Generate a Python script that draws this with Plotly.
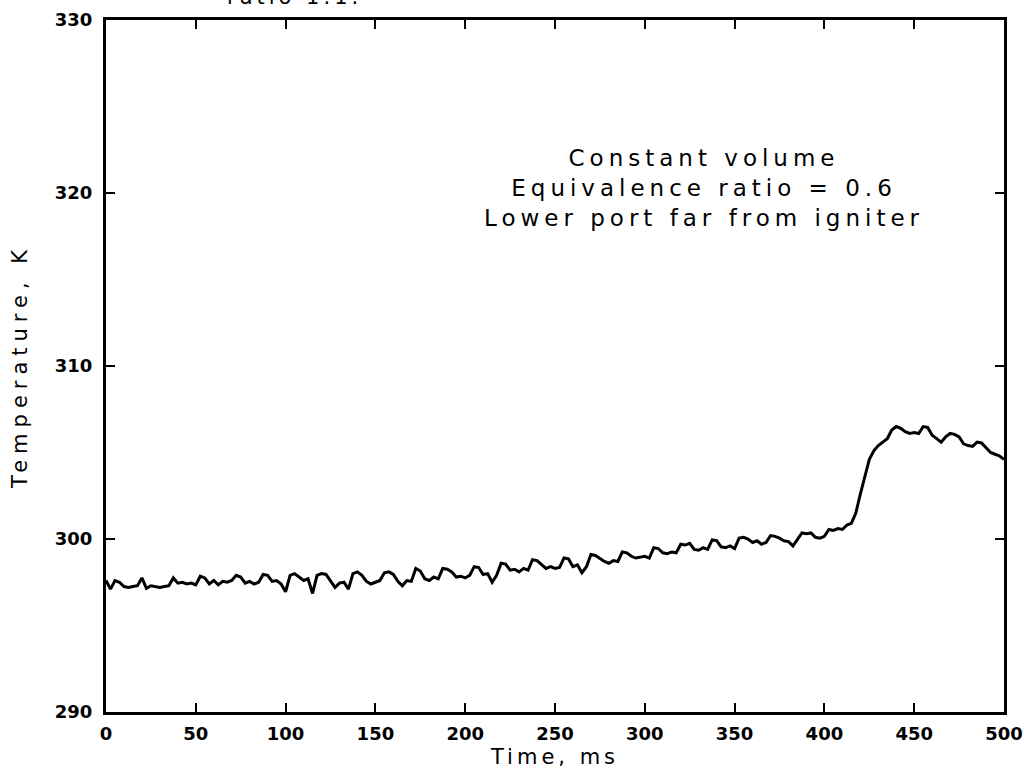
import plotly.graph_objects as go

step_ms = 2.5
temperature_K = [
    297.6, 297.1, 297.6, 297.5, 297.25, 297.2, 297.25, 297.3, 297.75, 297.15,
    297.3, 297.25, 297.2, 297.25, 297.3, 297.75, 297.45, 297.5, 297.4, 297.45,
    297.35, 297.85, 297.75, 297.4, 297.6, 297.35, 297.55, 297.5, 297.6, 297.9,
    297.8, 297.45, 297.55, 297.4, 297.5, 297.95, 297.9, 297.55, 297.6, 297.4,
    296.95, 297.9, 298.0, 297.8, 297.6, 297.7, 296.85, 297.9, 298.0, 297.95,
    297.6, 297.2, 297.45, 297.5, 297.1, 298.0, 298.1, 297.9, 297.55, 297.4,
    297.5, 297.6, 298.05, 298.1, 297.95, 297.55, 297.3, 297.6, 297.55, 298.3,
    298.15, 297.7, 297.6, 297.8, 297.7, 298.3, 298.25, 298.1, 297.8, 297.85,
    297.75, 297.9, 298.4, 298.35, 297.95, 298.0, 297.5, 297.9, 298.6, 298.55,
    298.2, 298.25, 298.1, 298.3, 298.2, 298.8, 298.75, 298.5, 298.3, 298.4,
    298.3, 298.35, 298.9, 298.85, 298.4, 298.5, 298.05, 298.4, 299.1, 299.05,
    298.9, 298.7, 298.6, 298.75, 298.7, 299.25, 299.2, 299.0, 298.9, 298.95,
    299.0, 298.9, 299.5, 299.45, 299.2, 299.15, 299.25, 299.2, 299.7, 299.65,
    299.75, 299.4, 299.35, 299.5, 299.4, 299.95, 299.9, 299.55, 299.5, 299.6,
    299.45, 300.05, 300.1, 300.0, 299.8, 299.9, 299.7, 299.8, 300.2, 300.15,
    300.05, 299.9, 299.85, 299.6, 299.95, 300.35, 300.3, 300.35, 300.1, 300.05,
    300.15, 300.55, 300.5, 300.6, 300.55, 300.8, 300.9, 301.5, 302.6, 303.6,
    304.6, 305.1, 305.4, 305.6, 305.8, 306.3, 306.5, 306.4, 306.2, 306.1,
    306.15, 306.1, 306.5, 306.45, 306.0, 305.8, 305.6, 305.9, 306.1, 306.05,
    305.9, 305.5, 305.4, 305.35, 305.6, 305.55, 305.3, 305.0, 304.9, 304.8,
    304.6,
]
time_ms = [i * step_ms for i in range(len(temperature_K))]

x_ticks = [0, 50, 100, 150, 200, 250, 300, 350, 400, 450, 500]
y_ticks = [290, 300, 310, 320, 330]

note_lines = ["Constant volume", "Equivalence ratio = 0.6", "Lower port far from igniter"]
top_fragment = "ratio 1.1."
x_title = "Time, ms"
y_title = "Temperature, K"


def spaced(text, px):
    return f'<span style="letter-spacing:{px}px">{text}</span>'


fig = go.Figure()
fig.add_trace(go.Scatter(
    x=time_ms, y=temperature_K, mode="lines",
    line=dict(color="black", width=3), showlegend=False,
))

axis_common = dict(
    showline=True, linecolor="black", linewidth=3, mirror="ticks",
    ticks="inside", ticklen=9, tickwidth=2, tickcolor="black",
    showgrid=False, zeroline=False, automargin=False,
    tickfont=dict(family="DejaVu Sans", size=18, color="black", weight="bold"),
)

fig.update_layout(
    width=1024, height=775,
    margin=dict(l=106, r=20, t=20, b=63),
    paper_bgcolor="white", plot_bgcolor="white",
    xaxis=dict(range=[0, 500], tickvals=x_ticks, ticklabelstandoff=3,
               title=dict(text=spaced(x_title, 4), standoff=7,
                          font=dict(family="DejaVu Sans", size=21, color="black")),
               **axis_common),
    yaxis=dict(range=[290, 330], tickvals=y_ticks, ticklabelstandoff=7,
               title=dict(text=spaced(y_title, 6), standoff=22,
                          font=dict(family="DejaVu Sans", size=21, color="black")),
               **axis_common),
    annotations=[
        dict(text="<br>".join(spaced(s, 5) for s in note_lines), xref="x", yref="y",
             x=333, y=320.28,
             showarrow=False, align="center", xanchor="center", yanchor="middle",
             font=dict(family="DejaVu Sans", size=23, color="black")),
        dict(text=spaced(top_fragment, 4), xref="paper", yref="paper", x=0.132, y=1.0,
             yshift=23, xanchor="left", yanchor="middle", showarrow=False,
             font=dict(family="DejaVu Sans", size=21, color="black")),
    ],
)

fig.write_html("out.html")
